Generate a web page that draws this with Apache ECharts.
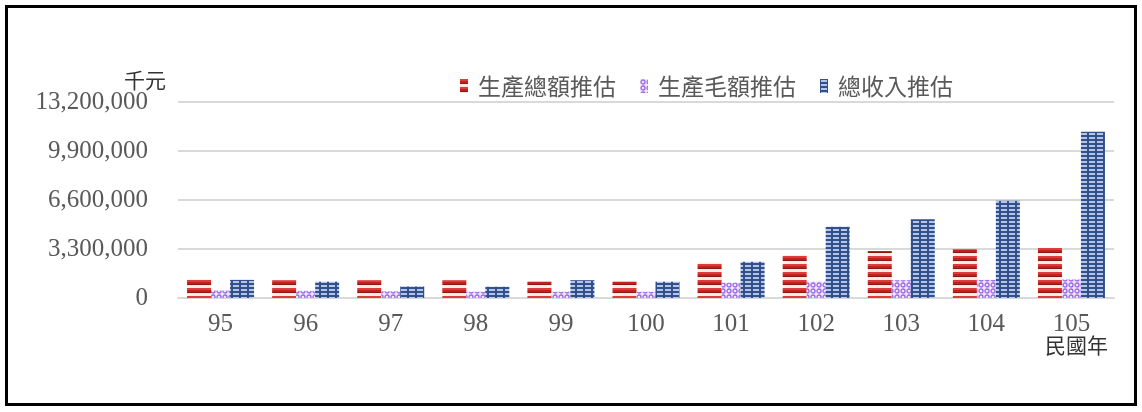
<!DOCTYPE html>
<html>
<head>
<meta charset="utf-8">
<script src="https://cdn.jsdelivr.net/npm/echarts@6/dist/echarts.min.js"></script>
<style>
html,body{margin:0;padding:0;background:#fff;}
#chart{width:1142px;height:412px;}
</style>
</head>
<body>
<div id="chart"></div>
<script>
// ---- data ----
const categories = ['95','96','97','98','99','100','101','102','103','104','105'];
const seriesNames = ['生產總額推估','生產毛額推估','總收入推估'];
const grossOutput = [1250000,1200000,1200000,1200000,1100000,1100000,2380000,2900000,3170000,3280000,3390000];
const grossProduct = [500000,480000,450000,420000,420000,420000,1030000,1100000,1200000,1220000,1250000];
const totalIncome = [1220000,1100000,780000,760000,1200000,1100000,2440000,4800000,5300000,6550000,11200000];
const yTicks = [0,3300000,6600000,9900000,13200000];
const yUnit = '千元';
const xUnit = '民國年';

function makePattern(w,h,draw){
  const c=document.createElement('canvas'); c.width=w; c.height=h;
  draw(c.getContext('2d')); return c;
}
const redPat = makePattern(4,8,ctx=>{
  ctx.fillStyle='#fdece2'; ctx.fillRect(0,0,4,8);
  ctx.fillStyle='#e03a3a'; ctx.fillRect(0,0,4,2);
  ctx.fillStyle='#c42020'; ctx.fillRect(0,2,4,2);
  ctx.fillStyle='#8e1616'; ctx.fillRect(0,4,4,1);
});
const bluePat = makePattern(8,4,ctx=>{
  ctx.fillStyle='#34508a'; ctx.fillRect(0,0,8,4);
  ctx.fillStyle='#b4c6ea'; ctx.fillRect(1,1,6,2);
});
const purplePat = makePattern(6,6,ctx=>{
  ctx.fillStyle='#efe6fc'; ctx.fillRect(0,0,6,6);
  ctx.strokeStyle='#9a68e6'; ctx.lineWidth=1.3;
  ctx.beginPath(); ctx.arc(3,3,2,0,Math.PI*2); ctx.stroke();
});

const chart = echarts.init(document.getElementById('chart'));
const serif = '"Liberation Serif","DejaVu Serif",serif';
const cjk = '"Noto Sans CJK TC","Noto Sans CJK SC",sans-serif';

chart.setOption({
  animation:false,
  backgroundColor:'#ffffff',
  legend:{
    left:455, top:69,
    itemWidth:8, itemHeight:14, itemGap:24,
    icon:'rect',
    textStyle:{fontFamily:cjk, fontSize:23, color:'#595959', padding:[0,0,0,5], lineHeight:24},
    data:seriesNames
  },
  grid:{left:178, right:28, top:102, bottom:114},
  xAxis:{
    type:'category', data:categories,
    axisLine:{lineStyle:{color:'#d9d9d9', width:2}},
    axisTick:{show:false},
    axisLabel:{fontFamily:serif, fontSize:25, color:'#595959', margin:14}
  },
  yAxis:{
    type:'value', min:yTicks[0], max:yTicks[yTicks.length-1], interval:yTicks[1]-yTicks[0],
    axisLine:{show:false}, axisTick:{show:false},
    splitLine:{lineStyle:{color:'#d9d9d9', width:2}},
    axisLabel:{fontFamily:serif, fontSize:25, color:'#595959', margin:30,
      formatter:v=>v.toLocaleString('en-US')}
  },
  series:[
    {name:seriesNames[0], type:'bar', data:grossOutput, barWidth:24, barGap:'0%',
     itemStyle:{color:{image:redPat, repeat:'repeat'}}},
    {name:seriesNames[1], type:'bar', data:grossProduct, barWidth:19, barGap:'0%',
     itemStyle:{color:{image:purplePat, repeat:'repeat'}}},
    {name:seriesNames[2], type:'bar', data:totalIncome, barWidth:24, barGap:'0%',
     itemStyle:{color:{image:bluePat, repeat:'repeat'}}}
  ],
  graphic:[
    {type:'rect', shape:{x:6.5, y:6.5, width:1129, height:398}, style:{fill:'none', stroke:'#000', lineWidth:3}, z:100},
    {type:'text', left:124, top:70, style:{text:yUnit, font:'21px '+cjk, fill:'#333'}},
    {type:'text', left:1045, top:335, style:{text:xUnit, font:'21px '+cjk, fill:'#333'}}
  ]
});
</script>
</body>
</html>
